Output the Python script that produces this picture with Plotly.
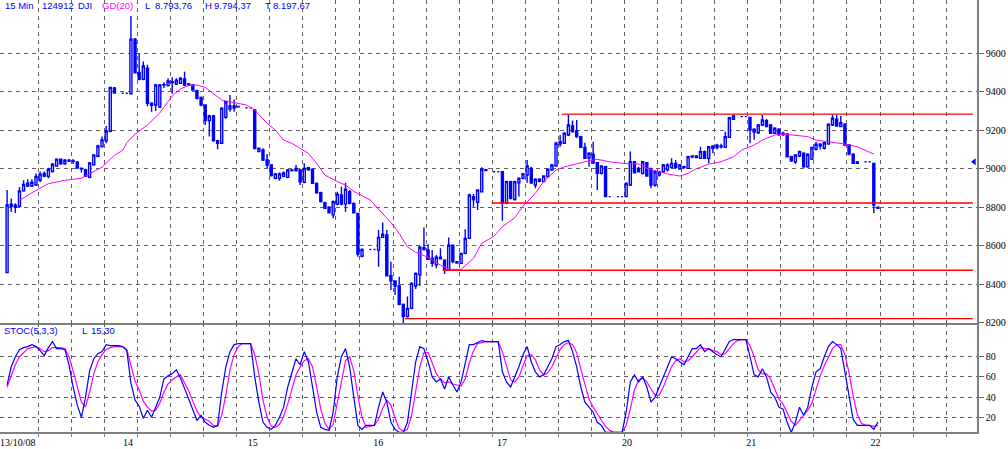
import plotly.graph_objects as go

# ---------------- data (15-min bars, 30 slots per session) ----------------
opens = [8460,8815,8800,8805,8885,8910,8910,8915,8940,8975,8960,8985,9014,9049,9026,9044,9040,9034,9003,8995,
         8955,9020,9065,9115,9145,9195,9420,None,9392,9392,
         9390,9673,9500,9465,9522,9340,9331,9320,9435,9432,9452,9440,9444,9466,9440,9435,9406,9371,9331,9250,
         9274,9146,9132,9267,9310,9315,9324,None,9317,9317,
         9305,9089,9097,9045,9019,8950,8950,8960,8955,8993,8990,8993,8930,8995,8997,8924,8875,8823,8800,8760,
         8816,8863,8816,8880,8820,8768,8545,None,8580,8580,
         8577,8643,8656,8444,8416,8390,8295,8231,8274,8390,8448,8590,8577,8534,8500,8540,8525,8473,8602,8517,
         8508,8560,8638,8855,8825,8880,8995,None,8984,8984,
         8984,8820,8933,8840,8927,8950,8967,9002,8915,8935,8933,8959,8993,9014,9128,9132,9175,9222,9196,9167,
         9111,9056,9076,9031,8976,9010,8855,None,8855,8855,
         8855,8915,9036,9002,8976,9031,9002,8915,8967,8984,8995,9007,9028,9000,9010,9002,9062,9058,9054,9089,
         9054,9106,9110,9118,9111,9163,9257,None,9271,9271,
         9267,9205,9187,9227,9250,9227,9184,9205,9185,9179,9062,9036,9066,9080,9010,9050,9101,9128,9106,9128,
         9227,9257,9219,9232,9123,9076,9028,None,9036,9036,
         9028,8800]
highs = [8889,8845,8820,8905,8940,8945,8945,8975,8985,8985,9005,9030,9052,9052,9050,9050,9050,9040,9006,9000,
         9035,9075,9125,9167,9222,9426,9425,None,9392,9392,
         9794,9680,9600,9557,9540,9345,9440,9440,9450,9470,9475,9470,9475,9504,9445,9440,9410,9375,9335,9280,
         9280,9150,9320,9352,9383,9360,9326,None,9317,9317,
         9310,9110,9106,9076,9025,8978,8980,8985,8998,8998,9019,8998,9028,9010,9000,8928,8880,8828,8805,8835,
         8880,8906,8927,8890,8825,8771,8585,None,8580,8580,
         8681,8720,8681,8517,8420,8439,8300,8336,8410,8460,8598,8695,8608,8577,8551,8586,8530,8643,8605,8520,
         8565,8685,8870,8868,8893,9007,8998,None,8984,8984,
         8988,8938,8938,8938,8955,8978,9045,9010,8950,8950,8965,9000,9025,9140,9175,9190,9279,9250,9253,9172,
         9135,9085,9140,9035,9018,9015,8855,None,8855,8855,
         8930,9089,9040,9010,9040,9035,9005,8990,8990,9025,9028,9054,9045,9025,9015,9068,9070,9070,9114,9095,
         9118,9122,9130,9130,9192,9270,9280,None,9271,9271,
         9270,9210,9232,9279,9258,9232,9215,9210,9192,9185,9068,9075,9095,9085,9080,9110,9140,9132,9140,9236,
         9279,9279,9274,9236,9128,9080,9040,None,9036,9036,
         9030,8800]
lows = [8460,8775,8770,8800,8880,8905,8905,8910,8930,8955,8950,8980,9010,9020,9020,9035,9025,9000,8980,8958,
        8950,9015,9060,9110,9133,9190,9390,None,9392,9392,
        9388,9495,9460,9460,9325,9296,9300,9315,9420,9428,9390,9435,9440,9430,9430,9405,9360,9325,9227,9167,
        9140,9101,9128,9260,9296,9296,9320,None,9317,9317,
        9100,9085,9040,9002,8960,8945,8938,8955,8950,8985,8985,8915,8925,8990,8920,8870,8825,8790,8768,8742,
        8810,8810,8776,8815,8768,8542,8540,None,8580,8580,
        8491,8640,8440,8369,8344,8290,8198,8226,8270,8375,8390,8575,8525,8491,8482,8528,8453,8470,8508,8506,
        8505,8555,8635,8802,8785,8878,8988,None,8984,8984,
        8730,8815,8840,8835,8855,8945,8927,8920,8898,8930,8930,8955,8990,9010,9114,9128,9170,9188,9160,9108,
        9050,9010,9025,8889,8970,8852,8855,None,8855,8855,
        8852,8910,8975,8980,8970,8958,8898,8906,8960,8980,8985,9000,9000,8995,9000,8998,9055,9055,9050,9050,
        9028,9080,9100,9105,9108,9160,9255,None,9271,9271,
        9132,9150,9180,9222,9215,9180,9180,9170,9170,9058,9035,9024,9060,9005,9005,9045,9095,9100,9100,9125,
        9222,9218,9215,9120,9070,9024,9024,None,9036,9036,
        8768,8790]
closes = [8811,8805,8810,8885,8918,8925,8930,8960,8972,8962,8997,9023,9049,9026,9044,9040,9038,9003,9000,8960,
          9030,9072,9118,9150,9195,9423,9393,None,9392,9392,
          9673,9499,9465,9534,9340,9330,9435,9435,9437,9456,9448,9460,9470,9435,9437,9409,9366,9331,9250,9274,
          9146,9132,9314,9348,9326,9326,9322,None,9317,9317,
          9106,9106,9045,9019,8964,8973,8973,8978,8993,8990,9002,8932,9002,9005,8924,8875,8829,8794,8771,8829,
          8868,8816,8893,8820,8771,8556,8580,None,8580,8580,
          8643,8659,8444,8418,8390,8295,8231,8274,8404,8456,8592,8580,8529,8508,8540,8532,8477,8602,8517,8510,
          8560,8638,8863,8840,8889,8997,8990,None,8984,8984,
          8820,8933,8846,8933,8950,8973,9014,8927,8945,8945,8962,8997,9019,9132,9140,9184,9227,9192,9167,9111,
          9054,9080,9031,8976,9014,8855,8855,None,8855,8855,
          8924,9036,8979,8984,9036,8962,8915,8984,8984,9019,9019,9028,9007,9019,9008,9062,9066,9066,9089,9054,
          9114,9118,9122,9114,9167,9265,9274,None,9271,9271,
          9201,9190,9227,9253,9219,9184,9210,9178,9178,9062,9041,9071,9089,9010,9075,9110,9128,9118,9135,9232,
          9262,9222,9239,9123,9076,9028,9035,None,9036,9036,
          8811,8794]

# GD(20) moving average read at selected bars
ma_bar = [3,6,10,14,18,20,23,26,28,29,31,34,37,40,42,44,46,48,50,52,54,56,58,60,63,65,67,69,71,73,75,77,80,82,84,86,88,
          90,93,95,97,99,102,105,107,110,113,115,118,120,123,125,127,128,130,133,135,138,140,143,146,149,153,155,158,
          160,163,165,167,170,173,176,178,181,183,186,188,191,194,196,199,203,206,208,210]
ma_val = [8835,8875,8922,8940,8950,8972,9008,9070,9095,9135,9180,9227,9290,9378,9415,9433,9435,9423,9390,9357,9348,9340,9331,
          9305,9236,9201,9149,9132,9106,9080,9028,8967,8933,8915,8882,8860,8837,
          8790,8720,8664,8594,8565,8540,8499,8477,8477,8534,8612,8650,8699,8745,8805,8850,8872,8933,8993,9010,9028,9036,9049,9036,9028,9024,9002,8984,
          8973,8962,8976,9000,9024,9036,9062,9097,9123,9149,9175,9180,9175,9167,9149,9140,9128,9114,9097,9076]

# STOC(5,3,3)
stoch_k = [52,70,80,87,89,90,92,90,86,81, 89,95,88,88,87,72,50,32,20,40, 66,78,83,85,92,91,91,91,90,86,
           54,37,31,19,27,20,30,40,58,61, 63,67,59,48,37,26,17,22,15,12, 10,12,45,70,85,92,93,93,93,93,
           60,35,15,10,8,12,20,30,50,65, 78,72,85,75,50,25,10,8,7,25, 60,80,88,70,40,12,8,12,12,12,
           30,45,35,15,8,5,5,15,45,75, 90,88,75,60,55,58,48,60,52,45, 55,75,92,92,94,96,95,95,95,95,
           65,55,50,60,70,82,90,75,65,60, 62,70,78,90,92,95,96,85,70,50, 35,30,25,15,12,5,5,5,5,5,
           25,55,62,55,60,50,35,40,50,60, 70,80,78,75,72,80,88,88,92,85, 88,85,82,80,88,95,97,97,97,97,
           80,62,60,68,60,45,40,30,28,15, 5,15,30,22,30,50,65,68,80,90, 95,92,88,65,40,18,12,12,12,12,
           8,15.3]
stoch_d = [50,62,72,80,84,88,89,90,88,85, 86,89,89,89,88,80,66,50,35,30, 45,63,75,82,87,89,90,90,90,87,
           72,56,47,36,30,26,27,34,45,53, 57,60,62,54,46,36,26,20,18,16, 12,11,22,42,67,82,90,93,93,93,
           82,63,37,20,11,10,13,21,33,47, 62,70,76,78,70,50,28,14,8,13, 35,58,76,80,66,41,20,10,11,12,
           18,29,37,32,19,9,6,8,22,45, 70,84,84,74,63,58,54,55,53,52, 51,58,74,86,93,94,95,95,95,95,
           85,72,57,55,60,71,81,82,77,67, 62,64,70,79,87,92,94,92,84,68, 52,38,30,23,17,11,7,5,5,5,
           12,28,47,57,59,55,48,42,42,50, 60,70,76,78,75,76,80,85,89,88, 88,86,85,82,83,88,93,96,97,97,
           91,80,67,63,63,58,48,38,33,24, 16,12,17,22,27,34,48,61,71,79, 88,92,92,82,64,41,23,14,12,12,
           11,12]

# drawn horizontal levels (price, first bar)
level_price = [9284, 8822, 8472, 8221]
level_start = [134.4, 117.4, 105.6, 96.4]
level_end = 234.0
last_marker = 9036

day_labels = ["13/10/08", "14", "15", "16", "17", "20", "21", "22"]
day_label_pos = [2.6, 29.3, 59.5, 89.9, 119.9, 150.2, 180.3, 210.4]
grid_bars = [7.5,15.5,23.5,31.5,39.5,47.5,55.5,63.5,71.5,79.5,85.5,93.5,101.5,109.5,117.5,125.5,
             133.5,141.5,149.5,157.5,163.5,171.5,179.5,187.5,195.5,203.5,211.5,219.5,227.5]
price_ticks = [8200, 8400, 8600, 8800, 9000, 9200, 9400, 9600]
stoch_ticks = [20, 40, 60, 80]

# ---------------- figure ----------------
BLUE = "#0000FF"
MAG = "#FF00FF"
GRID = "#626262"
AX = "#808080"

idx = [i for i in range(len(opens)) if opens[i] is not None]
fig = go.Figure()
fig.add_trace(go.Candlestick(
    x=idx, open=[opens[i] for i in idx], high=[highs[i] for i in idx],
    low=[lows[i] for i in idx], close=[closes[i] for i in idx],
    increasing=dict(line=dict(color=BLUE, width=1.4), fillcolor="#FFFFFF"),
    decreasing=dict(line=dict(color=BLUE, width=1.4), fillcolor=BLUE),
    whiskerwidth=0, showlegend=False, hoverinfo="skip", xaxis="x", yaxis="y"))
fig.add_trace(go.Scatter(x=ma_bar, y=ma_val, mode="lines", line=dict(color=MAG, width=1),
                         showlegend=False, hoverinfo="skip", xaxis="x", yaxis="y"))
for p, s in zip(level_price, level_start):
    fig.add_trace(go.Scatter(x=[s, level_end], y=[p, p], mode="lines", line=dict(color="#FF0000", width=1.4),
                             showlegend=False, hoverinfo="skip", xaxis="x", yaxis="y"))
fig.add_trace(go.Scatter(x=[234.3], y=[last_marker], mode="markers",
                         marker=dict(symbol="triangle-left", size=6, color=BLUE),
                         showlegend=False, hoverinfo="skip", xaxis="x", yaxis="y", cliponaxis=False))
bars = list(range(len(stoch_k)))
fig.add_trace(go.Scatter(x=bars, y=stoch_d, mode="lines", line=dict(color=MAG, width=1.2),
                         showlegend=False, hoverinfo="skip", xaxis="x2", yaxis="y2"))
fig.add_trace(go.Scatter(x=bars, y=stoch_k, mode="lines", line=dict(color=BLUE, width=1.2),
                         showlegend=False, hoverinfo="skip", xaxis="x2", yaxis="y2"))

xr = [-1.72, 235.0]
split = (432 - 323) / 432
minor_grid = dict(tickmode="array", tickvals=grid_bars, showgrid=True, gridcolor=GRID,
                  griddash="4px,4px", gridwidth=1)
tickfont = dict(family="Liberation Serif", size=10, color="#000000")

fig.update_layout(
    width=1008, height=449, margin=dict(l=0, r=31, t=0, b=17, autoexpand=False),
    paper_bgcolor="#FFFFFF", plot_bgcolor="#FFFFFF",
    xaxis=dict(domain=[0, 1], anchor="y", range=xr, tickmode="array", tickvals=day_label_pos,
               showticklabels=False, ticks="", showgrid=False, zeroline=False, automargin=False,
               showline=True, linecolor=AX, linewidth=1.5, minor=minor_grid, rangeslider=dict(visible=False)),
    yaxis=dict(domain=[split, 1], anchor="x", side="right", range=[8198, 9877], tickmode="array",
               tickvals=price_ticks, showgrid=True, gridcolor=GRID, griddash="4px,4px", gridwidth=1,
               ticks="outside", ticklen=5, tickcolor=GRID, zeroline=False, automargin=False,
               showline=True, linecolor=AX, linewidth=1.5, tickfont=tickfont),
    xaxis2=dict(domain=[0, 1], anchor="y2", range=xr, tickmode="array", tickvals=day_label_pos,
                ticktext=day_labels, ticks="", showgrid=False, zeroline=False, automargin=False,
                showline=True, linecolor=AX, linewidth=1.5, tickfont=tickfont,
                minor=dict(minor_grid, ticks="outside", ticklen=3, tickcolor=AX)),
    yaxis2=dict(domain=[0, split], anchor="x2", side="right", range=[5.4, 113.4], tickmode="array",
                tickvals=stoch_ticks, showgrid=True, gridcolor=GRID, griddash="4px,4px", gridwidth=1,
                ticks="outside", ticklen=5, tickcolor=GRID, zeroline=False, automargin=False,
                showline=True, linecolor=AX, linewidth=1.5, tickfont=tickfont),
)

W = 977.0
H = 432.0
def ann(text, px, py, color=BLUE, size=9.5):
    fig.add_annotation(text=text, xref="paper", yref="paper", x=px / W, y=(H - py) / H,
                       xanchor="left", yanchor="middle", showarrow=False,
                       font=dict(family="Liberation Sans", size=size, color=color))

header = [("15 Min", 3, BLUE), ("124912", 40, BLUE), ("DJI", 76, BLUE), ("GD(20)", 100, MAG),
          ("L", 143, BLUE), ("8.793,76", 153, BLUE), ("H", 203, BLUE), ("9.794,37", 212, BLUE),
          ("T", 263, BLUE), ("8.197,67", 271, BLUE)]
for t, px, c in header:
    ann(t, px, 6, c)
ann("STOC(5,3,3)", 2, 330)
ann("L", 80, 330)
ann("15,30", 89, 330)

fig.write_html("out.html", config={"displayModeBar": False},
               post_script="document.body.style.margin='0px';document.body.style.padding='0px';"
                           "document.body.style.overflow='hidden';")
